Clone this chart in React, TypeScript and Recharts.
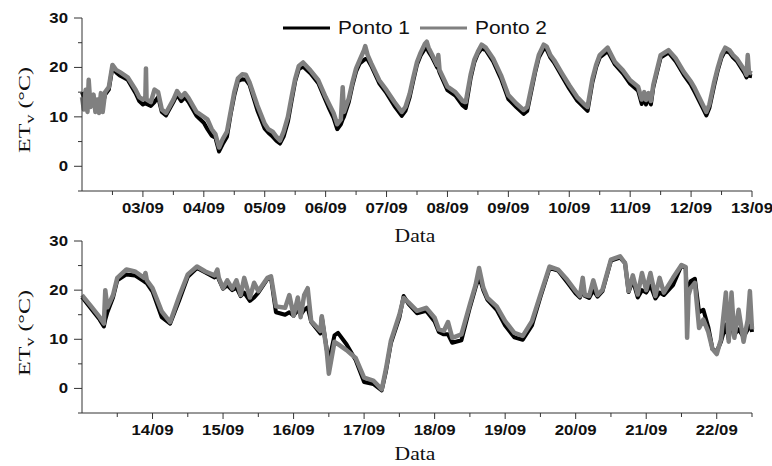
import { LineChart, Line, XAxis, YAxis, Legend } from 'recharts';

// dia do mês (fração = hora do dia) — painel superior 02/09 a 13/09
const TOP_DAYS = [
  2, 2.03, 2.06, 2.09, 2.11, 2.14, 2.19, 2.22, 2.25, 2.28, 2.31, 2.34, 2.38, 2.44, 2.5, 2.56, 2.63, 2.75, 2.88, 2.94,
  3, 3.04, 3.05, 3.06, 3.13, 3.19, 3.25, 3.31, 3.38, 3.5, 3.56, 3.63, 3.69, 3.75, 3.88,
  4, 4.06, 4.13, 4.19, 4.25, 4.31, 4.38, 4.44, 4.5, 4.56, 4.63, 4.69, 4.75, 4.88,
  5, 5.06, 5.13, 5.19, 5.25, 5.31, 5.38, 5.44, 5.5, 5.56, 5.63, 5.75, 5.88,
  6, 6.06, 6.13, 6.19, 6.25, 6.28, 6.3, 6.38, 6.44, 6.5, 6.56, 6.63, 6.65, 6.69, 6.75, 6.88,
  7, 7.13, 7.25, 7.31, 7.38, 7.44, 7.5, 7.56, 7.63, 7.66, 7.69, 7.75, 7.83, 7.85, 7.87,
  8, 8.13, 8.25, 8.3, 8.38, 8.44, 8.5, 8.56, 8.63, 8.75, 8.88,
  9, 9.13, 9.25, 9.31, 9.38, 9.44, 9.5, 9.58, 9.63, 9.69, 9.75, 9.88,
  10, 10.13, 10.25, 10.3, 10.38, 10.44, 10.5, 10.63, 10.75, 10.88,
  11, 11.13, 11.19, 11.23, 11.26, 11.3, 11.34, 11.38, 11.44, 11.5, 11.63, 11.75, 11.88,
  12, 12.06, 12.13, 12.19, 12.25, 12.3, 12.38, 12.44, 12.5, 12.56, 12.63, 12.69, 12.75, 12.88, 12.91, 12.93, 12.95, 13,
];
const TOP_P1 = [
  15, 14, 15, 13.5, 14.5, 13, 14, 12.5, 13, 12, 14, 12.5, 14.5, 15.5, 20, 19, 18.3, 17.5, 14.8, 13.2,
  12.5, 12.8, 13, 12.6, 12.2, 13, 14, 11, 10.3, 13, 14.5, 13.2, 14, 13, 10.2,
  8.8, 7.5, 6.2, 5.8, 3, 4.5, 6, 10.5, 14.3, 17.2, 17.6, 17.5, 16.5, 11.3,
  7.6, 6.8, 6, 5.2, 4.6, 6, 9, 13.2, 17.2, 19.7, 20.2, 18.8, 16.8,
  13.3, 11.6, 9.8, 7.5, 8.5, 9.5, 10, 13, 16.4, 19.2, 20.8, 21.5, 21.7, 21.6, 20.3, 16.8,
  14.8, 12.2, 10.2, 11.2, 14, 17.4, 20.6, 22.4, 23.8, 24, 23.2, 22, 20, 19.8, 19,
  15.4, 14.3, 12.3, 11.8, 17.8, 21, 22.8, 23.8, 23.5, 21.2, 17.7,
  13.6, 12, 10.6, 11.2, 15.4, 19, 22, 23.8, 23.6, 22, 21, 18.2,
  15.7, 13.3, 11.8, 11.2, 17, 20, 22, 23.3, 20.6, 18.8,
  16.7, 15.3, 12.6, 14.2, 12.5, 14, 12.5, 16, 19, 22, 23, 21.2, 18.5,
  16.4, 15, 13.3, 11.8, 10.3, 11.8, 16.4, 19.5, 22, 23.4, 23, 22, 21.3, 18.8, 18, 18.5, 18.3, 18.2,
];
const TOP_P2 = [
  14, 11.5, 15.5, 11, 17.5, 12, 14.5, 11, 13.5, 10.8, 14.8, 11, 15, 16, 20.5, 19.5, 19, 18, 15.5, 14,
  13.5, 14, 19.8, 13.5, 13, 15.5, 15, 11.5, 10.8, 13.5, 15.2, 14, 14.8, 13.8, 11,
  10, 9.5, 7.5, 6.5, 3.8, 5.5, 7, 11, 15, 17.8, 18.6, 18.5, 17, 12.3,
  8.6, 7.5, 7, 6, 5.2, 7, 10, 14, 17.7, 20.3, 21, 19.4, 17.4,
  14, 12.5, 10.8, 8.5, 9.5, 16, 11, 13.7, 17, 19.8, 21.5, 23.5, 24.3, 22.5, 20.8, 17.4,
  15.4, 13, 11, 12, 14.7, 18, 21.1, 23, 24.8, 25.2, 24, 22.5, 20.5, 22.5, 19.5,
  16.1, 15, 13.2, 13, 18.5, 21.5, 23.2, 24.6, 24, 21.8, 18.4,
  14.4, 12.7, 11.4, 12, 16.1, 19.5, 22.5, 24.6, 24.2, 22.5, 21.5, 18.8,
  16.4, 14, 12.5, 12, 17.7, 20.5, 22.5, 24, 21.1, 19.4,
  17.4, 16.1, 13.5, 15, 13.4, 14.8, 13.2, 16.5, 19.5, 22.5, 23.5, 21.8, 19.1,
  17.1, 15.8, 14, 12.5, 11, 12.5, 17.1, 20, 22.5, 24, 23.5, 22.5, 21.8, 19.4, 18.5, 22.5, 19, 18.8,
];

// painel inferior 13/09 a 22/09 12h
const BOTTOM_DAYS = [
  13, 13.13, 13.25, 13.31, 13.33, 13.36, 13.44, 13.5, 13.63, 13.75, 13.88, 13.9, 13.92,
  14, 14.13, 14.25, 14.38, 14.5, 14.63, 14.75, 14.88, 14.92, 14.94,
  15, 15.06, 15.13, 15.19, 15.25, 15.3, 15.38, 15.44, 15.5, 15.63, 15.68, 15.75, 15.88, 15.94,
  16, 16.06, 16.1, 16.15, 16.2, 16.25, 16.38, 16.4, 16.47, 16.5, 16.58, 16.63, 16.75, 16.88,
  17, 17.13, 17.25, 17.31, 17.38, 17.5, 17.56, 17.63, 17.75, 17.88,
  18, 18.06, 18.13, 18.19, 18.25, 18.38, 18.5, 18.58, 18.63, 18.69, 18.75, 18.88,
  19, 19.13, 19.25, 19.38, 19.5, 19.63, 19.75, 19.88,
  20, 20.06, 20.1, 20.13, 20.19, 20.25, 20.31, 20.38, 20.5, 20.63, 20.7, 20.75, 20.81, 20.88, 20.94,
  21, 21.06, 21.13, 21.19, 21.25, 21.38, 21.5, 21.56, 21.58, 21.6, 21.63, 21.69, 21.75, 21.81, 21.88, 21.94,
  22, 22.06, 22.13, 22.17, 22.21, 22.25, 22.31, 22.38, 22.44, 22.47, 22.5,
];
const BOTTOM_P1 = [
  18.6, 16.2, 14, 12.6, 14, 15.5, 18.5, 22, 23.2, 23, 21.8, 21.6, 21.4,
  19.7, 14.5, 13.2, 18, 22.7, 24.5, 23.6, 22.6, 23, 22.2,
  20.3, 21, 20, 20.5, 18.8, 19.5, 17.8, 18.5, 19.5, 22.3, 22.5, 15.5, 15, 15.5,
  14.8, 16, 15, 16, 16.5, 13.5, 11.2, 14.5, 8, 5.5, 10.8, 11.3, 9, 5.8,
  1.3, 0.9, -0.4, 3.5, 9.2, 14.4, 18.8, 17.2, 15.3, 15.8,
  13.6, 11.5, 11, 11, 9.3, 9.8, 16.5, 20.5, 22.8, 20, 18, 16,
  12.8, 10.4, 9.9, 12.8, 18.6, 24.5, 24, 21.6,
  19.3, 18.5, 20, 18.8, 18.4, 20, 18.7, 19.8, 26, 26.6, 25.5, 19.6, 22, 18.5, 20,
  19.5, 21, 18.3, 19.5, 19, 21, 25, 24.5, 17, 20, 21.8, 22.3, 15.5, 16, 12.5, 8,
  7.5, 9.5, 13, 10, 14, 11, 12, 10.5, 12, 15, 11.5,
];
const BOTTOM_P2 = [
  19, 16.7, 14.5, 13.2, 20, 16.5, 19, 22.5, 24.2, 23.8, 22.5, 23.5, 22,
  20.4, 15.7, 13.5, 18.8, 23.2, 24.8, 23.8, 23, 24.2, 22.5,
  20.4, 22, 20.3, 22, 19, 22.5, 18.5, 21.5, 19.8, 22.5, 22.8, 16.7, 16.4, 19,
  14.8, 18.5, 14.5, 19, 20.4, 13.7, 11.7, 14.7, 7.6, 3, 9.5, 9, 7.8, 6.2,
  2.2, 1.6, -0.2, 4, 9.7, 15, 18.4, 17.5, 15.8, 16.4,
  14.4, 12, 11.7, 13.5, 10.3, 11, 17.1, 21, 24.5, 20.5, 18.4, 16.7,
  13.7, 11.3, 10.7, 13.7, 19.1, 24.8, 24.2, 22.1,
  19.8, 18.8, 22.5, 19, 18.8, 22, 19, 20.1, 26.2, 26.9, 25.5, 19.8, 23, 19.1, 23.5,
  20, 23.5, 18.8, 22.5, 19.5, 22.5, 25.1, 24.7, 10.3, 19, 20.4, 21.5, 12.3, 14, 11.5, 8,
  7, 10, 19.5, 9.5, 19.5, 10.3, 16, 9.5, 14, 19.8, 12,
];

const TOP_TICKS = [2.5, 3, 3.5, 4, 4.5, 5, 5.5, 6, 6.5, 7, 7.5, 8, 8.5, 9, 9.5, 10, 10.5, 11, 11.5, 12, 12.5, 13];
const BOTTOM_TICKS = [13.5, 14, 14.5, 15, 15.5, 16, 16.5, 17, 17.5, 18, 18.5, 19, 19.5, 20, 20.5, 21, 21.5, 22, 22.5];
const Y_TICKS = [-5, 0, 5, 10, 15, 20, 25, 30];
const MONTH = '09';
const SERIES_NAMES = ['Ponto 1', 'Ponto 2'];

const P1_COLOR = '#000000';
const P2_COLOR = '#808080';
const AXIS = '#333333';
const SANS = '"Liberation Sans", Arial, sans-serif';
const SERIF = '"Liberation Serif", "Times New Roman", serif';

const dayLabel = (v: number) => `${String(v).padStart(2, '0')}/${MONTH}`;

function XTick(props: any) {
  const { x, y, payload } = props;
  const v = payload.value;
  const major = Number.isInteger(v);
  return (
    <g>
      <line x1={x} x2={x} y1={y} y2={y + (major ? 6 : 4)} stroke={AXIS} />
      {major && (
        <text
          transform={`translate(${x},${y + 22}) scale(1.2,1)`}
          textAnchor="middle"
          fontFamily={SANS}
          fontWeight="bold"
          fontSize={14}
          fill="#111"
        >
          {dayLabel(v)}
        </text>
      )}
    </g>
  );
}

function YTick(props: any) {
  const { x, y, payload } = props;
  const v = payload.value;
  const major = v % 10 === 0;
  return (
    <g>
      <line x1={x - (major ? 8 : 4)} x2={x} y1={y} y2={y} stroke={AXIS} />
      {major && (
        <text
          transform={`translate(${x - 14},${y + 5}) scale(1.2,1)`}
          textAnchor="end"
          fontFamily={SANS}
          fontWeight="bold"
          fontSize={14}
          fill="#111"
        >
          {v}
        </text>
      )}
    </g>
  );
}

// rótulo vertical, esticado no sentido da leitura como no original
function YTitle(props: any) {
  const vb = props.viewBox ?? { x: 0, y: 18 };
  const cx = vb.x + 25;
  const cy = vb.y + 92;
  return (
    <text
      transform={`translate(${cx},${cy}) rotate(-90) scale(1.5,1)`}
      textAnchor="middle"
      dominantBaseline="central"
      fontFamily={SERIF}
      fontSize={16}
      fill="#111"
    >
      ET
      <tspan fontSize={12} dy={4}>v</tspan>
      <tspan dy={-4}> (°C)</tspan>
    </text>
  );
}

function XTitle(props: any) {
  const vb = props.viewBox ?? { x: 82, y: 191, width: 670 };
  const dy = props.dy ?? 51;
  return (
    <text
      transform={`translate(${vb.x + vb.width / 2 - 2},${vb.y + dy}) scale(1.2,1)`}
      textAnchor="middle"
      fontFamily={SERIF}
      fontSize={18}
      fill="#111"
    >
      Data
    </text>
  );
}

function LegendBox(props: any) {
  const items = props.payload ?? [];
  return (
    <svg width={300} height={26} style={{ display: 'block' }}>
      {items.map((item: any, i: number) => (
        <g key={item.value} transform={`translate(${i * 137},0)`}>
          <line x1={3} x2={50} y1={13} y2={13} stroke={item.color} strokeWidth={3} />
          <text
            transform="translate(58,19) scale(1.16,1)"
            fontFamily={SANS}
            fontSize={18}
            fill="#111"
          >
            {item.value}
          </text>
        </g>
      ))}
    </svg>
  );
}

function Panel({ days, p1, p2, domain, ticks, height, margin, legend, titleDy }: any) {
  const rows = days.map((t: number, i: number) => ({ t, p1: p1[i], p2: p2[i] }));
  return (
    <LineChart width={772} height={height} data={rows} margin={margin}>
      <XAxis
        dataKey="t"
        type="number"
        domain={domain}
        ticks={ticks}
        interval={0}
        height={42}
        tickSize={0}
        tickMargin={0}
        tickLine={false}
        axisLine={{ stroke: AXIS }}
        tick={<XTick />}
        label={<XTitle dy={titleDy} />}
      />
      <YAxis
        type="number"
        domain={[-5, 30]}
        ticks={Y_TICKS}
        interval={0}
        width={82}
        tickSize={0}
        tickMargin={0}
        tickLine={false}
        axisLine={{ stroke: AXIS }}
        tick={<YTick />}
        label={<YTitle />}
      />
      {legend && (
        <Legend
          layout="vertical"
          align="center"
          verticalAlign="middle"
          content={<LegendBox />}
          wrapperStyle={{ position: 'absolute', left: 280, top: 15, width: 300, height: 26 }}
        />
      )}
      <Line
        dataKey="p1"
        name={SERIES_NAMES[0]}
        type="linear"
        stroke={P1_COLOR}
        strokeWidth={4}
        strokeLinejoin="round"
        dot={false}
        activeDot={false}
        isAnimationActive={false}
      />
      <Line
        dataKey="p2"
        name={SERIES_NAMES[1]}
        type="linear"
        stroke={P2_COLOR}
        strokeWidth={4.5}
        strokeLinejoin="round"
        dot={false}
        activeDot={false}
        isAnimationActive={false}
      />
    </LineChart>
  );
}

export default function App() {
  return (
    <div style={{ position: 'absolute', left: 0, top: 0, width: 772, height: 466, background: '#fff' }}>
      <div style={{ position: 'absolute', left: 0, top: 0 }}>
        <Panel
          days={TOP_DAYS}
          p1={TOP_P1}
          p2={TOP_P2}
          domain={[2, 13]}
          ticks={TOP_TICKS}
          height={250}
          margin={{ top: 18, right: 20, bottom: 17, left: 0 }}
          titleDy={51}
          legend
        />
      </div>
      <div style={{ position: 'absolute', left: 0, top: 222 }}>
        <Panel
          days={BOTTOM_DAYS}
          p1={BOTTOM_P1}
          p2={BOTTOM_P2}
          domain={[13, 22.5]}
          ticks={BOTTOM_TICKS}
          height={244}
          margin={{ top: 19, right: 20, bottom: 11, left: 0 }}
          titleDy={47}
        />
      </div>
    </div>
  );
}
